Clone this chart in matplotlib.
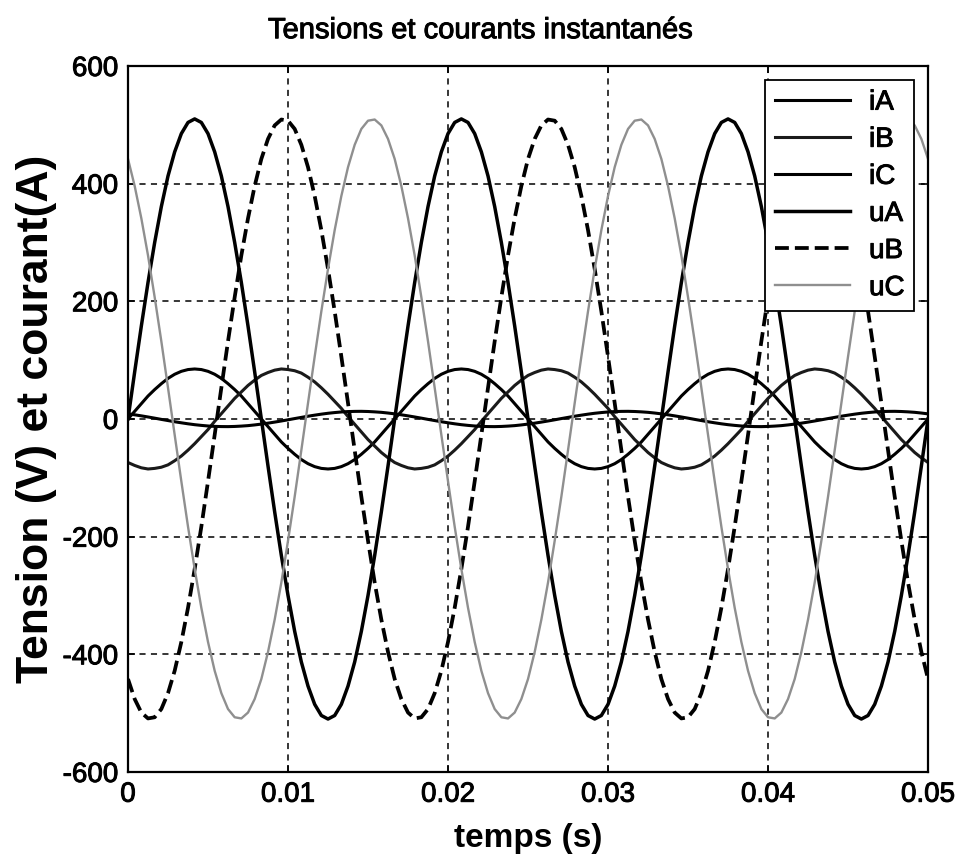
import matplotlib
matplotlib.use("Agg")
import matplotlib.pyplot as plt
import matplotlib.patheffects as pe
import numpy as np

plt.rcParams['font.family'] = ['Liberation Sans', 'DejaVu Sans']
plt.rcParams['axes.unicode_minus'] = False

# time samples (s), 121 points over 0 .. 0.05 s
t = np.linspace(0, 0.05, 121)

# currents (A)
iA = [0, 13, 26, 39, 50, 60, 69, 76, 81, 84, 85, 84, 81, 76, 69, 60, 50, 39, 26, 13,
      0, -13, -26, -39, -50, -60, -69, -76, -81, -84, -85, -84, -81, -76, -69, -60, -50, -39, -26, -13,
      0, 13, 26, 39, 50, 60, 69, 76, 81, 84, 85, 84, 81, 76, 69, 60, 50, 39, 26, 13,
      0, -13, -26, -39, -50, -60, -69, -76, -81, -84, -85, -84, -81, -76, -69, -60, -50, -39, -26, -13,
      0, 13, 26, 39, 50, 60, 69, 76, 81, 84, 85, 84, 81, 76, 69, 60, 50, 39, 26, 13,
      0, -13, -26, -39, -50, -60, -69, -76, -81, -84, -85, -84, -81, -76, -69, -60, -50, -39, -26, -13,
      0]
iB = [-74, -79, -83, -85, -84, -82, -78, -71, -63, -53, -42, -30, -18, -4, 9, 22, 35, 46, 57, 66,
      74, 79, 83, 85, 84, 82, 78, 71, 63, 53, 42, 30, 18, 4, -9, -22, -35, -46, -57, -66,
      -74, -79, -83, -85, -84, -82, -78, -71, -63, -53, -42, -30, -18, -4, 9, 22, 35, 46, 57, 66,
      74, 79, 83, 85, 84, 82, 78, 71, 63, 53, 42, 30, 18, 4, -9, -22, -35, -46, -57, -66,
      -74, -79, -83, -85, -84, -82, -78, -71, -63, -53, -42, -30, -18, -4, 9, 22, 35, 46, 57, 66,
      74, 79, 83, 85, 84, 82, 78, 71, 63, 53, 42, 30, 18, 4, -9, -22, -35, -46, -57, -66,
      -74]
iC = [8.7, 7.1, 5.3, 3.4, 1.4, -0.7, -2.7, -4.7, -6.5, -8.2, -9.7, -10.9, -11.9, -12.6, -12.9, -13.0, -12.7, -12.1, -11.3, -10.1,
      -8.7, -7.1, -5.3, -3.4, -1.4, 0.7, 2.7, 4.7, 6.5, 8.2, 9.7, 10.9, 11.9, 12.6, 12.9, 13.0, 12.7, 12.1, 11.3, 10.1,
      8.7, 7.1, 5.3, 3.4, 1.4, -0.7, -2.7, -4.7, -6.5, -8.2, -9.7, -10.9, -11.9, -12.6, -12.9, -13.0, -12.7, -12.1, -11.3, -10.1,
      -8.7, -7.1, -5.3, -3.4, -1.4, 0.7, 2.7, 4.7, 6.5, 8.2, 9.7, 10.9, 11.9, 12.6, 12.9, 13.0, 12.7, 12.1, 11.3, 10.1,
      8.7, 7.1, 5.3, 3.4, 1.4, -0.7, -2.7, -4.7, -6.5, -8.2, -9.7, -10.9, -11.9, -12.6, -12.9, -13.0, -12.7, -12.1, -11.3, -10.1,
      -8.7, -7.1, -5.3, -3.4, -1.4, 0.7, 2.7, 4.7, 6.5, 8.2, 9.7, 10.9, 11.9, 12.6, 12.9, 13.0, 12.7, 12.1, 11.3, 10.1,
      8.7]

# voltages (V)
uA = [0, 80, 158, 232, 300, 361, 413, 454, 485, 504, 510, 504, 485, 454, 413, 361, 300, 232, 158, 80,
      0, -80, -158, -232, -300, -361, -413, -454, -485, -504, -510, -504, -485, -454, -413, -361, -300, -232, -158, -80,
      0, 80, 158, 232, 300, 361, 413, 454, 485, 504, 510, 504, 485, 454, 413, 361, 300, 232, 158, 80,
      0, -80, -158, -232, -300, -361, -413, -454, -485, -504, -510, -504, -485, -454, -413, -361, -300, -232, -158, -80,
      0, 80, 158, 232, 300, 361, 413, 454, 485, 504, 510, 504, 485, 454, 413, 361, 300, 232, 158, 80,
      0, -80, -158, -232, -300, -361, -413, -454, -485, -504, -510, -504, -485, -454, -413, -361, -300, -232, -158, -80,
      0]
uB = [-442, -476, -499, -509, -507, -493, -466, -428, -379, -321, -255, -183, -106, -27, 53, 132, 207, 278, 341, 396,
      442, 476, 499, 509, 507, 493, 466, 428, 379, 321, 255, 183, 106, 27, -53, -132, -207, -278, -341, -396,
      -442, -476, -499, -509, -507, -493, -466, -428, -379, -321, -255, -183, -106, -27, 53, 132, 207, 278, 341, 396,
      442, 476, 499, 509, 507, 493, 466, 428, 379, 321, 255, 183, 106, 27, -53, -132, -207, -278, -341, -396,
      -442, -476, -499, -509, -507, -493, -466, -428, -379, -321, -255, -183, -106, -27, 53, 132, 207, 278, 341, 396,
      442, 476, 499, 509, 507, 493, 466, 428, 379, 321, 255, 183, 106, 27, -53, -132, -207, -278, -341, -396,
      -442]
uC = [442, 396, 341, 278, 207, 132, 53, -27, -106, -183, -255, -321, -379, -428, -466, -493, -507, -509, -499, -476,
      -442, -396, -341, -278, -207, -132, -53, 27, 106, 183, 255, 321, 379, 428, 466, 493, 507, 509, 499, 476,
      442, 396, 341, 278, 207, 132, 53, -27, -106, -183, -255, -321, -379, -428, -466, -493, -507, -509, -499, -476,
      -442, -396, -341, -278, -207, -132, -53, 27, 106, 183, 255, 321, 379, 428, 466, 493, 507, 509, 499, 476,
      442, 396, 341, 278, 207, 132, 53, -27, -106, -183, -255, -321, -379, -428, -466, -493, -507, -509, -499, -476,
      -442, -396, -341, -278, -207, -132, -53, 27, 106, 183, 255, 321, 379, 428, 466, 493, 507, 509, 499, 476,
      442]

xticks = [0, 0.01, 0.02, 0.03, 0.04, 0.05]
xticklabels = ['0', '0.01', '0.02', '0.03', '0.04', '0.05']
yticks = [-600, -400, -200, 0, 200, 400, 600]

fig = plt.figure(figsize=(9.61, 8.67), dpi=100)
ax = fig.add_axes([0.1332, 0.1096, 0.8325, 0.8143])

ax.plot(t, iA, color='black', lw=2.2, label='iA')
ax.plot(t, iB, color='#1a1a1a', lw=2.2, label='iB')
ax.plot(t, iC, color='black', lw=2.2, label='iC')
ax.plot(t, uA, color='black', lw=2.5, label='uA')
ax.plot(t, uB, color='black', lw=2.7, ls='--', label='uB')
ax.plot(t, uC, color='#8f8f8f', lw=1.7, label='uC')

ax.set_xlim(0, 0.05)
ax.set_ylim(-600, 600)
ax.set_xticks(xticks)
ax.set_xticklabels(xticklabels)
ax.set_yticks(yticks)
ax.tick_params(direction='in', top=True, right=True, length=5, width=1.2,
               labelsize=20, pad=7)
ax.grid(True, color='black', lw=1.1, ls=(0, (4, 3.5)))
for s in ax.spines.values():
    s.set_linewidth(1.6)

# the scanned original has heavier text strokes
heavy = [pe.withStroke(linewidth=0.7, foreground='black')]
for lab in ax.get_xticklabels() + ax.get_yticklabels():
    lab.set_path_effects(heavy)

ax.set_title('Tensions et courants instantanés', fontsize=21, pad=20, x=0.44,
             path_effects=heavy)
ax.set_xlabel('temps (s)', fontsize=24, fontweight='bold', labelpad=11)
ax.set_ylabel('Tension (V) et courant(A)', fontsize=32, fontweight='bold', labelpad=4)

leg = ax.legend(loc='upper right', fontsize=20, handlelength=2.7, handletextpad=0.7,
                labelspacing=0.4, borderpad=0.35, borderaxespad=0.5,
                fancybox=False, framealpha=1, edgecolor='black')
leg.get_frame().set_linewidth(1.3)
for txt in leg.get_texts():
    txt.set_path_effects(heavy)

fig.savefig('out.png', dpi=100)
